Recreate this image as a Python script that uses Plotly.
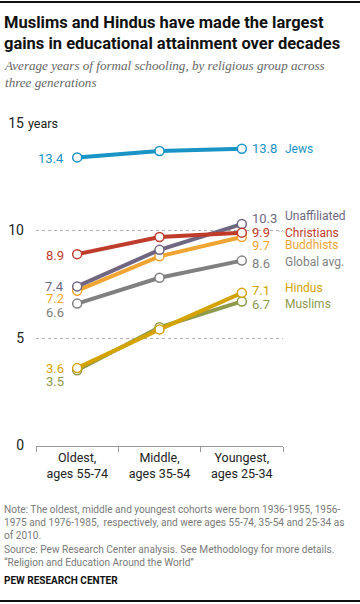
import plotly.graph_objects as go

# ---- data ----
cohorts = ["Oldest,<br>ages 55-74", "Middle,<br>ages 35-54", "Youngest,<br>ages 25-34"]
groups = ["Muslims", "Hindus", "Global avg.", "Buddhists", "Unaffiliated", "Christians", "Jews"]
jews = [13.4, 13.7, 13.8]
christians = [8.9, 9.7, 9.9]
unaffiliated = [7.4, 9.1, 10.3]
buddhists = [7.2, 8.8, 9.7]
global_avg = [6.6, 7.8, 8.6]
hindus = [3.6, 5.4, 7.1]
muslims = [3.5, 5.5, 6.7]
y_ticks = [0, 5, 10, 15]

series = {
    "Muslims": muslims,
    "Hindus": hindus,
    "Global avg.": global_avg,
    "Buddhists": buddhists,
    "Unaffiliated": unaffiliated,
    "Christians": christians,
    "Jews": jews,
}
colors = {
    "Jews": "#1a93c6",
    "Christians": "#bf3b2a",
    "Unaffiliated": "#6f6681",
    "Buddhists": "#f0a431",
    "Global avg.": "#808080",
    "Hindus": "#d4a300",
    "Muslims": "#8e9a4c",
}
# pixel nudges for labels (left value, right value, name)
nudge = {
    "Jews": (-1, 0, 0),
    "Christians": (-1, 0, 0),
    "Unaffiliated": (0, 6, 8),
    "Buddhists": (-8, -9, -8),
    "Global avg.": (-9, -3, -1),
    "Hindus": (0, 2, 5),
    "Muslims": (-11, -3, -3),
}

W, H = 360, 604
L, R, T, B = 36, 283, 123, 445.5


def px(x):
    return x / W


def py(y):
    return 1 - y / H


fig = go.Figure()
for g in groups:
    fig.add_trace(go.Scatter(
        x=cohorts, y=series[g], mode="lines+markers", name=g,
        line=dict(color=colors[g], width=4),
        marker=dict(size=9, color="white", line=dict(color=colors[g], width=1.5)),
        cliponaxis=False, hoverinfo="skip",
    ))

ann = []
font_lbl = "Roboto, 'Open Sans', sans-serif"
for g in groups:
    v = series[g]
    nl, nr, nn = nudge[g]
    ann.append(dict(x=cohorts[0], y=v[0], xref="x", yref="y", text=f"{v[0]:.1f}",
                    showarrow=False, xanchor="right", yanchor="middle", xshift=-11, yshift=nl,
                    font=dict(family=font_lbl, size=13, color=colors[g])))
    ann.append(dict(x=cohorts[2], y=v[2], xref="x", yref="y", text=f"{v[2]:.1f}",
                    showarrow=False, xanchor="left", yanchor="middle", xshift=8, yshift=nr,
                    font=dict(family=font_lbl, size=13, color=colors[g])))
    ann.append(dict(x=cohorts[2], y=v[2], xref="x", yref="y", text=g,
                    showarrow=False, xanchor="left", yanchor="middle", xshift=41, yshift=nn,
                    font=dict(family=font_lbl, size=12, color=colors[g])))

# "years" unit label
ann.append(dict(x=px(26), y=py(123.5), xref="paper", yref="paper", text="years",
                showarrow=False, xanchor="left", yanchor="middle", bgcolor="white",
                borderpad=1, font=dict(family=font_lbl, size=12.5, color="#222")))

# title, subtitle
ann.append(dict(x=px(2), y=py(32.5), xref="paper", yref="paper",
                text="<b>Muslims and Hindus have made the largest<br>gains in educational attainment over decades</b>",
                showarrow=False, xanchor="left", yanchor="middle", align="left",
                font=dict(family="Roboto, sans-serif", size=16.5, color="#111")))
ann.append(dict(x=px(2), y=py(74), xref="paper", yref="paper",
                text="<i>Average years of formal schooling, by religious group across<br>three generations</i>",
                showarrow=False, xanchor="left", yanchor="middle", align="left",
                font=dict(family="'Liberation Serif', serif", size=13.1, color="#666")))

notes = [
    ("Note: The oldest, middle and youngest cohorts were born 1936-1955, 1956-", 509),
    ("1975 and 1976-1985,  respectively, and were ages 55-74, 35-54 and 25-34 as", 522),
    ("of 2010.", 535),
    ("Source: Pew Research Center analysis. See Methodology for more details.", 549),
    ("\u201cReligion and Education Around the World\u201d", 562),
]
for t, yy in notes:
    ann.append(dict(x=px(2), y=py(yy), xref="paper", yref="paper", text=t,
                    showarrow=False, xanchor="left", yanchor="middle",
                    font=dict(family=font_lbl, size=10.1, color="#7a7a7a")))
ann.append(dict(x=px(2), y=py(580), xref="paper", yref="paper", text="<b>PEW RESEARCH CENTER</b>",
                showarrow=False, xanchor="left", yanchor="middle",
                font=dict(family=font_lbl, size=10, color="#111")))

# black rules drawn as filled annotation boxes (top and bottom)
for yy in (2, 601):
    ann.append(dict(x=0, y=py(yy), xref="paper", yref="paper", text=" ",
                    showarrow=False, xanchor="left", yanchor="middle",
                    width=W, height=2, bgcolor="#111111", borderpad=0, borderwidth=0,
                    font=dict(size=1, color="#111111")))
# small dotted leader between 9.9 and Christians
ann.append(dict(x=px(281), y=py(232.3), xref="paper", yref="paper", text="\u00b7\u00b7\u00b7",
                showarrow=False, xanchor="center", yanchor="middle",
                font=dict(family=font_lbl, size=9, color="#999999")))

shapes = [
    dict(type="line", xref="paper", yref="paper", x0=0, x1=1, y0=py(2), y1=py(2),
         line=dict(color="#111111", width=2), layer="above"),
    dict(type="line", xref="paper", yref="paper", x0=0, x1=1, y0=py(601), y1=py(601),
         line=dict(color="#111111", width=2), layer="above"),
]

fig.update_layout(
    width=W, height=H,
    margin=dict(l=0, r=0, t=0, b=0, autoexpand=False),
    paper_bgcolor="white", plot_bgcolor="white",
    showlegend=False,
    annotations=ann, shapes=shapes,
    xaxis=dict(domain=[L / W, R / W], type="category", range=[-0.5, 2.5], tickson="boundaries",
               ticks="outside", automargin=False,
               ticklen=5, tickcolor="#999", tickwidth=1, showline=True, linecolor="#999",
               linewidth=1.2, showgrid=False, zeroline=False,
               tickfont=dict(family=font_lbl, size=12.5, color="#222")),
    yaxis=dict(domain=[1 - B / H, 1 - T / H], range=[0, 15], tickvals=y_ticks,
               ticktext=[str(t) for t in y_ticks], automargin=False,
               showgrid=True, gridcolor="#b0b0b0", griddash="dot", gridwidth=1,
               zeroline=False, showline=False, ticks="", ticklabelstandoff=11,
               tickfont=dict(family=font_lbl, size=14, color="#222")),
)

fig.write_html("out.html", config={"displayModeBar": False},
               post_script="document.body.style.margin='0';")
